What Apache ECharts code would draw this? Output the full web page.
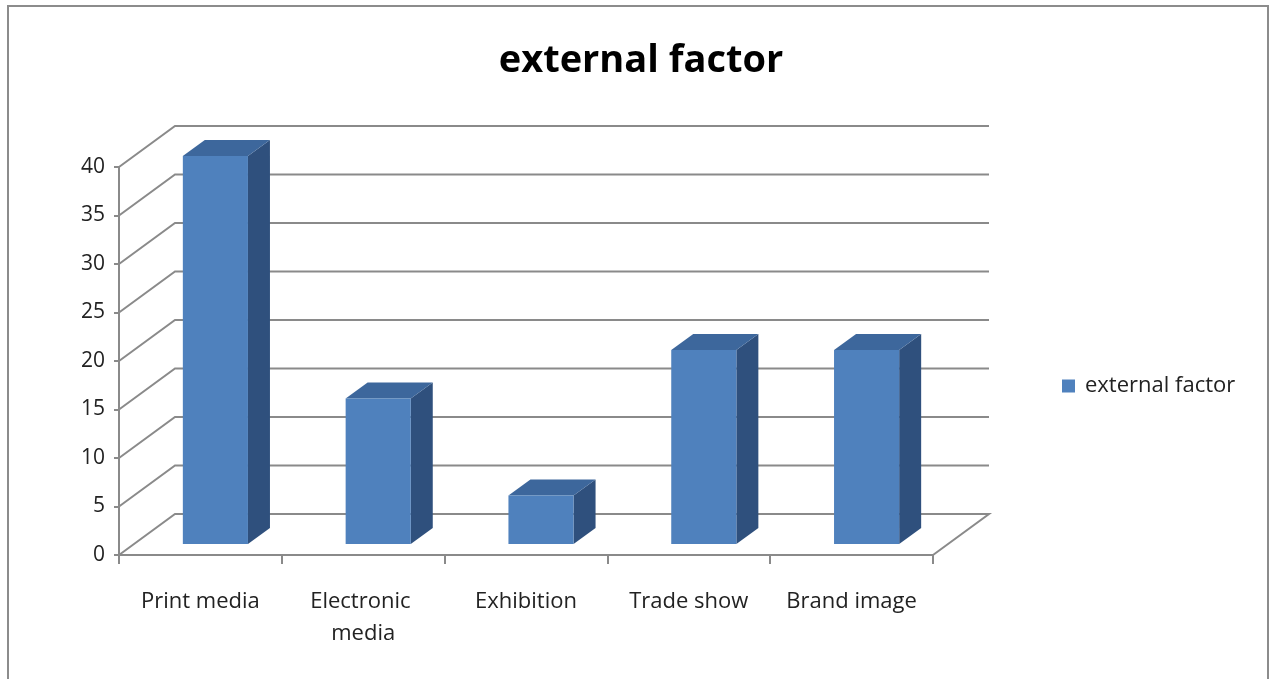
<!DOCTYPE html>
<html>
<head>
<meta charset="utf-8">
<script src="https://cdn.jsdelivr.net/npm/echarts@6/dist/echarts.min.js"></script>
<style>
  html, body { margin: 0; padding: 0; background: #fff; }
  #chart { width: 1270px; height: 679px; }
</style>
</head>
<body>
<div id="chart"></div>
<script>
// Data
const categories = ['Print media', 'Electronic media', 'Exhibition', 'Trade show', 'Brand image'];
const seriesName = 'external factor';
const values = [40, 15, 5, 20, 20];
const yTicks = [0, 5, 10, 15, 20, 25, 30, 35, 40];

// 3D look: wall depth, bar placement in depth and bar thickness
const DEPTH_X = 56, DEPTH_Y = -41;
const BAR_SHIFT_X = 15, BAR_SHIFT_Y = -11;
const BAR_SIDE_X = 22, BAR_SIDE_Y = -16;
const LINE = '#8a8a8a';
const FONT = '"Open Sans", Lato, sans-serif';

const chart = echarts.init(document.getElementById('chart'));

function renderWalls(params, api) {
  const v = api.value(0);
  const cs = params.coordSys;
  const y = api.coord([0, v])[1];
  const x0 = cs.x, x1 = cs.x + cs.width;
  const pts = [[x0, y], [x0 + DEPTH_X, y + DEPTH_Y], [x1 + DEPTH_X, y + DEPTH_Y]];
  if (v === 0) pts.push([x1, y]);
  return {
    type: 'polyline',
    shape: { points: pts },
    style: { stroke: LINE, lineWidth: 2, fill: null }
  };
}

function renderBar(params, api) {
  const i = api.value(0), v = api.value(1);
  const base = api.coord([i, 0]);
  const top = api.coord([i, v]);
  const w = api.size([1, 0])[0] * 0.4;
  const x = base[0] + BAR_SHIFT_X - w / 2;
  const yt = top[1] + BAR_SHIFT_Y;
  const yb = base[1] + BAR_SHIFT_Y;
  return {
    type: 'group',
    children: [
      {
        type: 'polygon',
        shape: { points: [[x + w, yt], [x + w + BAR_SIDE_X, yt + BAR_SIDE_Y], [x + w + BAR_SIDE_X, yb + BAR_SIDE_Y], [x + w, yb]] },
        style: { fill: '#2f507d' }
      },
      {
        type: 'polygon',
        shape: { points: [[x, yt], [x + w, yt], [x + w + BAR_SIDE_X, yt + BAR_SIDE_Y], [x + BAR_SIDE_X, yt + BAR_SIDE_Y]] },
        style: { fill: '#3d679c' }
      },
      {
        type: 'rect',
        shape: { x: x, y: yt, width: w, height: yb - yt },
        style: { fill: '#4f81bd' }
      }
    ]
  };
}

chart.setOption({
  backgroundColor: '#fff',
  animation: false,
  title: {
    text: 'external factor',
    left: 641,
    textAlign: 'center',
    top: 42,
    padding: 0,
    textStyle: { fontFamily: FONT, fontWeight: 'bold', fontSize: 38, color: '#000' }
  },
  legend: {
    data: [seriesName],
    left: 1062,
    top: 375,
    padding: 0,
    icon: 'rect',
    itemWidth: 13,
    itemHeight: 13,
    textStyle: { fontFamily: FONT, fontSize: 22, color: '#222', padding: [0, 0, 0, 5] }
  },
  grid: { left: 119, right: 337, top: 167, bottom: 124 },
  xAxis: {
    type: 'category',
    data: categories,
    boundaryGap: true,
    axisLine: { show: true, lineStyle: { color: LINE, width: 2 } },
    axisTick: { show: true, length: 9, lineStyle: { color: LINE, width: 2 } },
    axisLabel: {
      fontFamily: FONT, fontSize: 22, color: '#222', margin: 31,
      width: 150, overflow: 'break', lineHeight: 32, interval: 0
    },
    splitLine: { show: false }
  },
  yAxis: {
    type: 'value',
    min: 0, max: 40, interval: 5,
    axisLine: { show: true, lineStyle: { color: LINE, width: 2 } },
    axisTick: { show: true, length: 5, lineStyle: { color: LINE, width: 2 } },
    axisLabel: { fontFamily: FONT, fontSize: 21, color: '#222', margin: 14 },
    splitLine: { show: false }
  },
  graphic: [{
    type: 'rect',
    shape: { x: 8, y: 6, width: 1260, height: 690 },
    style: { fill: null, stroke: '#8c8c8c', lineWidth: 2 },
    silent: true
  }],
  series: [
    {
      type: 'custom',
      name: 'walls',
      renderItem: renderWalls,
      data: yTicks.map(v => [v]),
      encode: { y: 0 },
      z: 1,
      silent: true
    },
    {
      type: 'custom',
      name: seriesName,
      renderItem: renderBar,
      data: values.map((v, i) => [i, v]),
      encode: { x: 0, y: 1 },
      itemStyle: { color: '#4f81bd' },
      z: 3
    }
  ]
});
</script>
</body>
</html>
